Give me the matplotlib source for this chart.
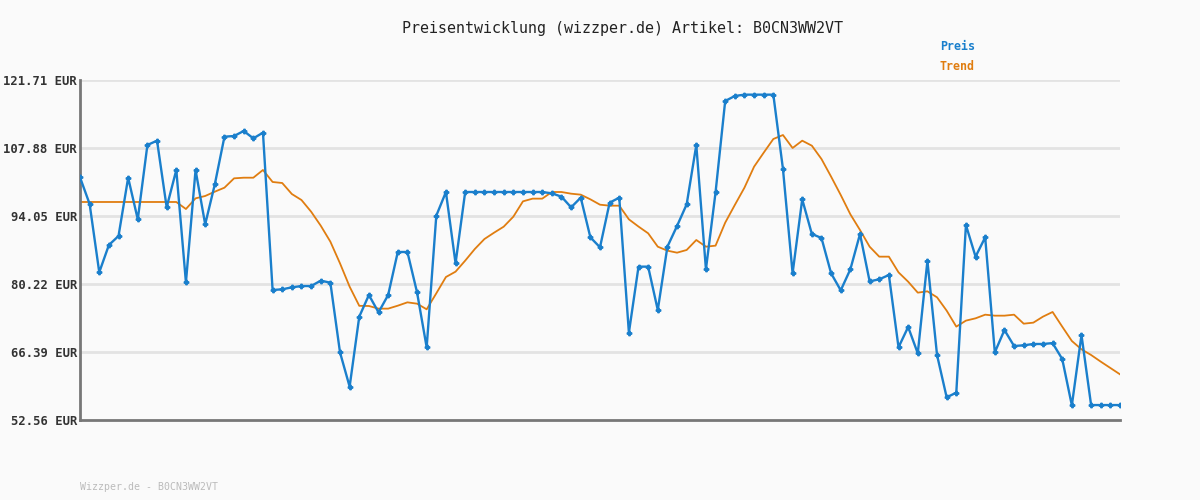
import numpy as np
import matplotlib
matplotlib.use("Agg")
import matplotlib.pyplot as plt

# Price data (EUR)
preis = [
    101.92, 96.49, 82.60, 88.15, 89.98, 101.84, 93.37, 108.49, 109.37, 95.81,
    103.41, 80.56, 103.41, 92.35, 100.49, 110.18, 110.32, 111.34, 109.84, 111.00,
    79.00, 79.14, 79.54, 79.81, 79.81, 80.90, 80.49, 66.32, 59.34, 73.58,
    77.98, 74.46, 77.98, 86.73, 86.73, 78.53, 67.34, 94.12, 98.93, 84.42,
    98.93, 98.93, 98.93, 98.93, 98.93, 98.93, 98.93, 98.93, 98.93, 98.66,
    97.98, 95.81, 97.78, 89.71, 87.68, 96.76, 97.78, 70.32, 83.75, 83.75,
    74.93, 87.81, 92.02, 96.42, 108.49, 83.21, 98.86, 117.44, 118.46, 118.73,
    118.73, 118.73, 118.73, 103.61, 82.39, 97.44, 90.39, 89.58, 82.39, 78.93,
    83.21, 90.39, 80.76, 81.17, 82.05, 67.34, 71.48, 66.12, 84.90, 65.78,
    57.17, 58.12, 92.22, 85.78, 89.71, 66.32, 70.86, 67.61, 67.75, 68.02,
    68.02, 68.20, 64.97, 55.54, 69.85, 55.60, 55.60, 55.60, 55.60,
]

trend = [
    96.90, 96.90, 96.90, 96.90, 96.90, 96.90, 96.90, 96.90, 96.90, 96.90,
    96.90, 95.47, 97.64, 98.12, 99.00, 99.81, 101.71, 101.84, 101.84, 103.41,
    100.97, 100.76, 98.52, 97.30, 94.93, 92.08, 88.83, 84.42, 79.68, 75.78,
    75.75, 75.21, 75.21, 75.81, 76.49, 76.22, 75.07, 78.32, 81.64, 82.73,
    84.97, 87.34, 89.37, 90.66, 91.88, 93.91, 97.03, 97.58, 97.58, 98.93,
    98.93, 98.59, 98.39, 97.44, 96.35, 96.15, 96.15, 93.37, 91.90, 90.53,
    87.81, 87.00, 86.59, 87.14, 89.17, 87.81, 88.02, 92.69, 96.29, 99.81,
    104.08, 106.93, 109.71, 110.52, 107.88, 109.37, 108.35, 105.64, 102.05, 98.32,
    94.39, 91.20, 87.81, 85.78, 85.78, 82.59, 80.69, 78.46, 78.73, 77.51,
    74.80, 71.55, 72.77, 73.24, 73.98, 73.78, 73.78, 73.98, 72.15, 72.36,
    73.58, 74.53, 71.55, 68.63, 66.93, 65.78, 64.43, 63.14, 61.85,
]

y_ticks = [52.56, 66.39, 80.22, 94.05, 107.88, 121.71]

artikel = "B0CN3WW2VT"
blau = "#1a7fcc"
orange = "#e07d10"
mono = "DejaVu Sans Mono"

x = np.arange(len(preis))

fig = plt.figure(figsize=(12, 5), dpi=100, facecolor="#fafafa")
ax = fig.add_axes([80 / 1200, 80 / 500, 1040 / 1200, 340 / 500])
ax.set_facecolor("#fafafa")

# Grid lines
for t in y_ticks[1:]:
    ax.axhline(t, color="#e3e3e3", lw=2, zorder=0)

ax.plot(x, trend, color=orange, lw=1.3, zorder=2)
ax.plot(x, preis, color=blau, lw=1.7, marker="P", markersize=3.2, zorder=3)

ax.set_xlim(0, len(preis) - 1)
ax.set_ylim(y_ticks[0], y_ticks[-1])
ax.set_xticks([])
ax.set_yticks(y_ticks)
ax.set_yticklabels([f"{t:.2f} EUR" for t in y_ticks],
                   fontfamily=mono, fontsize=8.8, fontweight="bold", color="#333333")
ax.tick_params(axis="y", length=0, pad=2)

for s in ["top", "right"]:
    ax.spines[s].set_visible(False)
for s in ["left", "bottom"]:
    ax.spines[s].set_color("#777777")
    ax.spines[s].set_linewidth(2)

fig.text(623 / 1200, 1 - 28 / 500, f"Preisentwicklung (wizzper.de) Artikel: {artikel}",
         ha="center", va="center", fontfamily=mono, fontsize=10.8, color="#222222")
fig.text(940 / 1200, 1 - 47 / 500, "Preis", ha="left", va="center",
         fontfamily=mono, fontsize=8.4, fontweight="bold", color=blau)
fig.text(940 / 1200, 1 - 67 / 500, "Trend", ha="left", va="center",
         fontfamily=mono, fontsize=8.4, fontweight="bold", color=orange)
fig.text(80 / 1200, 1 - 487 / 500, f"Wizzper.de - {artikel}", ha="left", va="center",
         fontfamily=mono, fontsize=7.1, color="#bbbbbb")

fig.savefig("out.png", dpi=100, facecolor=fig.get_facecolor())
